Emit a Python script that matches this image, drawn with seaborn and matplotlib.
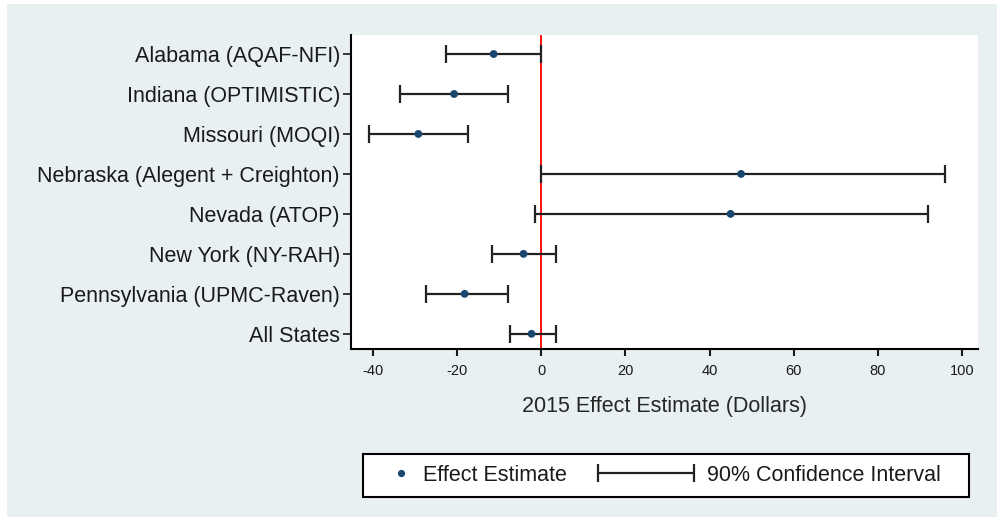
import pandas as pd
import seaborn as sns
from matplotlib import pyplot as plt
from matplotlib.lines import Line2D
from matplotlib.patches import Rectangle
from matplotlib.legend_handler import HandlerBase

# effect estimates and 90% CI (dollars)
programs = ['Alabama (AQAF-NFI)', 'Indiana (OPTIMISTIC)', 'Missouri (MOQI)',
            'Nebraska (Alegent + Creighton)', 'Nevada (ATOP)', 'New York (NY-RAH)',
            'Pennsylvania (UPMC-Raven)', 'All States']
estimate = [-11.3, -20.7, -29.2, 47.5, 45.0, -4.2, -18.2, -2.3]
ci_low = [-22.6, -33.5, -40.9, 0.0, -1.5, -11.6, -27.4, -7.4]
ci_high = [0.0, -7.9, -17.5, 96.0, 92.0, 3.4, -8.0, 3.4]
xticks = [-40, -20, 0, 20, 40, 60, 80, 100]

df = pd.DataFrame({'program': programs, 'estimate': estimate, 'lo': ci_low, 'hi': ci_high})
df['pos'] = range(len(df))

navy = '#1a476f'
bar_color = '#222222'
text_color = '#1a1a1a'
bg = '#e8f0f2'

sns.set_theme(style='ticks')
plt.rcParams['font.family'] = ['Liberation Sans', 'DejaVu Sans']
plt.rcParams['axes.unicode_minus'] = False
plt.rcParams['text.color'] = text_color
plt.rcParams['xtick.color'] = text_color
plt.rcParams['ytick.color'] = text_color

W, H = 997, 517
fig = plt.figure(figsize=(W / 100, H / 100), dpi=100)
fig.patch.set_facecolor('white')
fig.add_artist(Rectangle((7 / W, 0), 1 - 7 / W, 1 - 4 / H, transform=fig.transFigure,
                         facecolor=bg, edgecolor='none', zorder=-10))

ax = fig.add_axes([351 / W, 1 - 349 / H, (978 - 351) / W, (349 - 35) / H])
ax.set_facecolor('white')

# zero line
ax.axvline(0, color='#ff0000', lw=1.3, zorder=1)

# confidence intervals
ax.errorbar(df['estimate'], df['pos'],
            xerr=[df['estimate'] - df['lo'], df['hi'] - df['estimate']],
            fmt='none', ecolor=bar_color, elinewidth=1.6, capsize=6.5, capthick=1.6, zorder=2)

sns.scatterplot(data=df, x='estimate', y='pos', ax=ax, color=navy, s=32,
                edgecolor='none', zorder=3, legend=False)

ax.set_yticks(df['pos'], df['program'])
ax.set_ylim(7.38, -0.476)
ax.set_xticks(xticks)
ax.set_xlim(-45.2, 103.8)

ax.tick_params(axis='y', labelsize=15.5, length=6, width=1.2, pad=2)
ax.tick_params(axis='x', labelsize=10.5, length=5, width=1.5, pad=5.5)
ax.set_xlabel('2015 Effect Estimate (Dollars)', fontsize=15.5, labelpad=13)
ax.set_ylabel('')

for side in ['top', 'right']:
    ax.spines[side].set_visible(False)
for side in ['left', 'bottom']:
    ax.spines[side].set_color('black')
    ax.spines[side].set_linewidth(1.5)


# legend: dot sits at the right of its slot, CI line reaches back into the column gap
class DotHandler(HandlerBase):
    def create_artists(self, legend, orig_handle, xdescent, ydescent, width, height, fontsize, trans):
        x = width - xdescent - 0.42 * fontsize
        y = height / 2 - ydescent
        return [Line2D([x], [y], marker='o', color=navy, markersize=5.2,
                       linestyle='none', markeredgewidth=0, transform=trans)]


class CIHandler(HandlerBase):
    def create_artists(self, legend, orig_handle, xdescent, ydescent, width, height, fontsize, trans):
        right = width - xdescent
        left = right - 4.42 * fontsize
        y = height / 2 - ydescent
        line = Line2D([left, right], [y, y], color=bar_color, lw=1.6, transform=trans)
        caps = Line2D([left, right], [y, y], marker='|', markersize=13.5, linestyle='none',
                      color=bar_color, markeredgewidth=1.6, transform=trans)
        return [line, caps]


dot_handle = Line2D([], [])
ci_handle = Line2D([], [])
leg = fig.legend([dot_handle, ci_handle], ['Effect Estimate', '90% Confidence Interval   '],
                 handler_map={dot_handle: DotHandler(), ci_handle: CIHandler()},
                 loc='center', bbox_to_anchor=(666 / W, 1 - 475.5 / H), ncol=2,
                 fontsize=15.5, handlelength=1.69, handletextpad=0.6, columnspacing=4.2,
                 borderpad=0.5, frameon=True, fancybox=False, framealpha=1,
                 edgecolor='black', facecolor='white')
leg.get_frame().set_linewidth(1.5)

plt.savefig('out.png', dpi=100, facecolor=fig.get_facecolor())
